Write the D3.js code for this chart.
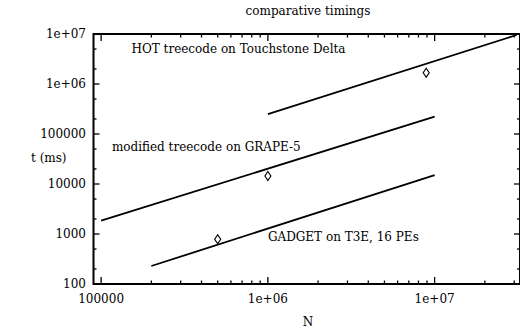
<!DOCTYPE html>
<html>
<head>
<meta charset="utf-8">
<script src="https://cdn.jsdelivr.net/npm/d3@7"></script>
<style>
  body { margin: 0; background: #fff; }
</style>
</head>
<body>
<svg id="chart" width="520" height="334"></svg>
<script>
// data
const hotLine = [[1e6, 2.5e5], [3.1e7, 9.55e6]];
const grapeLine = [[1e5, 1845], [1e7, 2.22e5]];
const gadgetLine = [[2e5, 229], [1e7, 15100]];
const measured = [[8.9e6, 1.68e6], [1e6, 14450], [5e5, 783]];
const lineLabels = [
    { text: "HOT treecode on Touchstone Delta", n: 1.52e5, t: 4.9e6 },
    { text: "modified treecode on GRAPE-5", n: 1.16e5, t: 5.6e4 },
    { text: "GADGET on T3E, 16 PEs", n: 1e6, t: 860 }
];
const xTicks = [1e5, 1e6, 1e7];
const xTickLabels = ["100000", "1e+06", "1e+07"];
const yTicks = [100, 1000, 10000, 100000, 1e6, 1e7];
const yTickLabels = ["100", "1000", "10000", "100000", "1e+06", "1e+07"];

const svg = d3.select("#chart");
const plotL = 93.5, plotR = 520, plotT = 34, plotB = 284;
const serif = "DejaVu Serif";
const fs = 12;

const x = d3.scaleLog().domain([9e4, 3.25e7]).range([plotL, plotR]);
const y = d3.scaleLog().domain([100, 1e7]).range([plotB, plotT]);

// minor ticks: 2..9 on x, 2 and 5 on y (gnuplot style)
const xMinor = [];
for (let d = 1e4; d <= 1e7; d *= 10) {
    for (let k = 2; k <= 9; k++) {
        const v = d * k;
        if (v > 9e4 && v < 3.25e7) xMinor.push(v);
    }
}
const yMinor = [];
for (let d = 100; d < 1e7; d *= 10) {
    yMinor.push(d * 2, d * 5);
}

const g = svg.append("g");

// border
g.append("rect")
    .attr("x", plotL).attr("y", plotT)
    .attr("width", plotR - plotL).attr("height", plotB - plotT)
    .attr("fill", "none").attr("stroke", "#000").attr("stroke-width", 2);

const tickG = g.append("g").attr("stroke", "#000").attr("stroke-width", 1.3);
const drawX = (vals, len) => {
    vals.forEach(v => {
        tickG.append("line").attr("x1", x(v)).attr("x2", x(v)).attr("y1", plotB).attr("y2", plotB - len);
        tickG.append("line").attr("x1", x(v)).attr("x2", x(v)).attr("y1", plotT).attr("y2", plotT + len);
    });
};
const drawY = (vals, len) => {
    vals.forEach(v => {
        tickG.append("line").attr("x1", plotL).attr("x2", plotL + len).attr("y1", y(v)).attr("y2", y(v));
        tickG.append("line").attr("x1", plotR).attr("x2", plotR - len).attr("y1", y(v)).attr("y2", y(v));
    });
};
drawX(xTicks, 7);
drawX(xMinor, 3.5);
drawY(yTicks, 6);
drawY(yMinor, 3);

const txt = (sel) => sel.attr("font-family", serif).attr("font-size", fs).attr("fill", "#000");

// tick labels
g.selectAll(".xl").data(xTicks).enter().append("text")
    .attr("x", d => x(d)).attr("y", 303)
    .attr("text-anchor", "middle").call(txt)
    .text((d, i) => xTickLabels[i]);
g.selectAll(".yl").data(yTicks).enter().append("text")
    .attr("x", 86).attr("y", d => y(d) + 4)
    .attr("text-anchor", "end").call(txt)
    .text((d, i) => yTickLabels[i]);

// axis titles
svg.append("text").attr("x", 308).attr("y", 15).attr("text-anchor", "middle")
    .call(txt).text("comparative timings");
svg.append("text").attr("x", 308).attr("y", 326).attr("text-anchor", "middle")
    .call(txt).text("N");
svg.append("text").attr("x", 31).attr("y", 162)
    .call(txt).text("t (ms)");

// fitted lines
const line = d3.line().x(d => x(d[0])).y(d => y(d[1]));
[hotLine, grapeLine, gadgetLine].forEach(l => {
    g.append("path").attr("d", line(l))
        .attr("fill", "none").attr("stroke", "#000").attr("stroke-width", 1.8);
});

// measured points (open diamonds)
g.selectAll(".pt").data(measured).enter().append("path")
    .attr("d", d3.symbol(d3.symbolDiamond, 24))
    .attr("transform", d => "translate(" + x(d[0]) + "," + y(d[1]) + ") scale(1.15,1)")
    .attr("fill", "none").attr("stroke", "#000").attr("stroke-width", 1);

// line labels
g.selectAll(".ll").data(lineLabels).enter().append("text")
    .attr("x", d => x(d.n)).attr("y", d => y(d.t) + 4)
    .call(txt)
    .text(d => d.text);
</script>
</body>
</html>
